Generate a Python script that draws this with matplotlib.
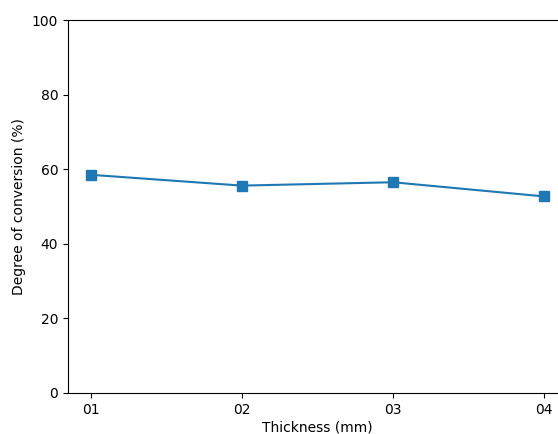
import matplotlib
matplotlib.use("Agg")
import matplotlib.pyplot as plt

thickness = ["01", "02", "03", "04"]
conversion = [58.5, 55.6, 56.5, 52.7]

fig = plt.figure(figsize=(5.58, 4.34), dpi=100)
# the original picture was cropped on the right, so the axes run past the edge
ax = fig.add_axes([0.1219, 0.0945, 0.894, 0.8594])
ax.plot(thickness, conversion, marker="s", color="#1f77b4", linewidth=1.5, markersize=7)
ax.set_ylim(0, 100)
ax.set_xlabel("Thickness (mm)", labelpad=2.5)
ax.set_ylabel("Degree of conversion (%)")
fig.savefig("out.png", dpi=100)
